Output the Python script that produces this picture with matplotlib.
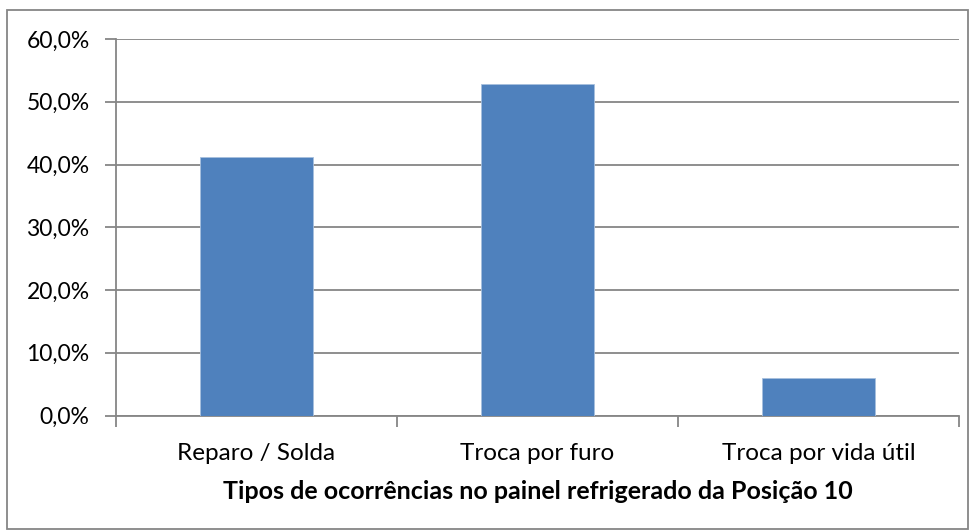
import matplotlib
matplotlib.use("Agg")
import matplotlib.pyplot as plt
from matplotlib.patches import Rectangle
from matplotlib.ticker import FuncFormatter, MultipleLocator

categories = ["Reparo / Solda", "Troca por furo", "Troca por vida útil"]
values = [41.2, 52.9, 5.9]
xlabel = "Tipos de ocorrências no painel refrigerado da Posição 10"

plt.rcParams['font.family'] = ['Lato', 'DejaVu Sans']

W, H = 977, 530
fig = plt.figure(figsize=(W / 100, H / 100), dpi=100)
fig.patches.append(Rectangle((7 / W, 1 - 529 / H), (968 - 7) / W, (529 - 10) / H,
                             transform=fig.transFigure, fill=False,
                             edgecolor='#868686', linewidth=1.3))

ax = fig.add_axes([116 / W, 1 - 415.5 / H, (959 - 116) / W, (415.5 - 39) / H])
x = range(len(categories))
ax.bar(x, values, width=0.4, color='#4F81BD', edgecolor='#A7C0DE', linewidth=0.6, zorder=3)
ax.set_xlim(-0.5, 2.5)
ax.set_ylim(0, 60)
ax.yaxis.set_major_locator(MultipleLocator(10))
ax.yaxis.set_major_formatter(FuncFormatter(lambda v, p: f"{v:.1f}%".replace('.', ',')))
ax.yaxis.grid(True, color='#868686', linewidth=1.3, zorder=0)
ax.set_xticks([-0.5, 0.5, 1.5, 2.5])
ax.set_xticklabels([])
ax.set_xticks(list(x), minor=True)
ax.set_xticklabels(categories, minor=True)
ax.tick_params(axis='x', which='minor', length=0, pad=20, labelsize=17.5)
ax.tick_params(axis='x', which='major', length=8, width=1.3, color='#868686', direction='out')
ax.tick_params(axis='y', length=8, width=1.3, color='#868686', labelsize=16.5, pad=11)
for s in ['top', 'right']:
    ax.spines[s].set_visible(False)
for s in ['left', 'bottom']:
    ax.spines[s].set_color('#868686')
    ax.spines[s].set_linewidth(1.3)
ax.set_xlabel(xlabel, fontsize=18, fontweight='bold', labelpad=11)

fig.savefig("out.png", dpi=100)
